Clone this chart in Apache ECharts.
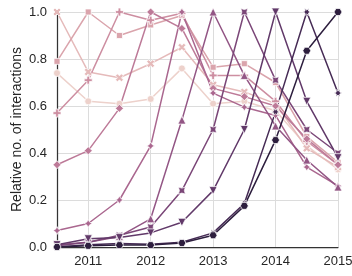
<!DOCTYPE html>
<html>
<head>
<meta charset="utf-8">
<script src="https://cdn.jsdelivr.net/npm/echarts@6/dist/echarts.min.js"></script>
<style>
html,body{margin:0;padding:0;background:#fff;}
#chart{width:352px;height:276px;}
</style>
</head>
<body>
<div id="chart"></div>
<script>
// ---- data ----
const years = [2010.5, 2011, 2011.5, 2012, 2012.5, 2013, 2013.5, 2014, 2014.5, 2015];
const xTickLabels = [2011, 2012, 2013, 2014, 2015];
const yTickLabels = [0.0, 0.2, 0.4, 0.6, 0.8, 1.0];
const group01 = [0.74, 0.62, 0.61, 0.63, 0.76, 0.61, 0.62, 0.58, 0.43, 0.33];
const group02 = [1.00, 0.745, 0.72, 0.78, 0.85, 0.69, 0.66, 0.61, 0.42, 0.34];
const group03 = [0.79, 1.00, 0.90, 0.945, 0.985, 0.765, 0.78, 0.70, 0.47, 0.36];
const group04 = [0.57, 0.71, 1.00, 0.965, 0.995, 0.73, 0.73, 0.62, 0.45, 0.35];
const group05 = [0.35, 0.41, 0.59, 1.00, 0.93, 0.675, 0.64, 0.60, 0.46, 0.35];
const group06 = [0.07, 0.10, 0.20, 0.43, 1.00, 0.655, 0.595, 0.56, 0.34, 0.26];
const group07 = [0.01, 0.02, 0.045, 0.12, 0.54, 1.00, 0.73, 0.515, 0.37, 0.255];
const group08 = [0.005, 0.02, 0.05, 0.085, 0.24, 0.50, 1.00, 0.71, 0.50, 0.40];
const group09 = [0.01, 0.035, 0.04, 0.06, 0.105, 0.24, 0.50, 1.00, 0.62, 0.38];
const group10 = [0.0, 0.01, 0.015, 0.012, 0.02, 0.06, 0.185, 0.575, 1.00, 0.655];
const group11 = [0.0, 0.005, 0.008, 0.008, 0.017, 0.05, 0.175, 0.455, 0.835, 1.00];
const groups = [group01, group02, group03, group04, group05, group06, group07, group08, group09, group10, group11];

// ---- styles ----
function cubehelix(x) {
  const start = 0, rot = 0.4, gamma = 1, hue = 0.8;
  const xg = Math.pow(x, gamma);
  const a = hue * xg * (1 - xg) / 2;
  const phi = 2 * Math.PI * (start / 3 + rot * x);
  const c = Math.cos(phi), s = Math.sin(phi);
  const r = xg + a * (-0.14861 * c + 1.78277 * s);
  const g = xg + a * (-0.29227 * c - 0.90649 * s);
  const b = xg + a * (1.97294 * c);
  const to = v => Math.round(Math.max(0, Math.min(1, v)) * 255);
  return 'rgb(' + to(r) + ',' + to(g) + ',' + to(b) + ')';
}
const symbols = [
  {symbol: 'circle', size: 7},
  {symbol: 'path://M-0.4,-0.2L-0.2,-0.4L0,-0.2L0.2,-0.4L0.4,-0.2L0.2,0L0.4,0.2L0.2,0.4L0,0.2L-0.2,0.4L-0.4,0.2L-0.2,0Z', size: 8},
  {symbol: 'rect', size: 6},
  {symbol: 'path://M-0.4,-0.133H-0.133V-0.4H0.133V-0.133H0.4V0.133H0.133V0.4H-0.133V0.133H-0.4Z', size: 8},
  {symbol: 'diamond', size: 8},
  {symbol: 'path://M0,-1L0.354,-0.354L1,0L0.354,0.354L0,1L-0.354,0.354L-1,0L-0.354,-0.354Z', size: 8},
  {symbol: 'triangle', size: 8},
  {symbol: 'path://M0,-0.5L0.707,-0.707L0.5,0L0.707,0.707L0,0.5L-0.707,0.707L-0.5,0L-0.707,-0.707Z', size: 7},
  {symbol: 'triangle', size: 8, rotate: 180},
  {symbol: 'path://M1,0L0.433,0.25L0.5,0.866L0,0.5L-0.5,0.866L-0.433,0.25L-1,0L-0.433,-0.25L-0.5,-0.866L0,-0.5L0.5,-0.866L0.433,-0.25Z', size: 8},
  {symbol: 'path://M1,0L0.5,0.866L-0.5,0.866L-1,0L-0.5,-0.866L0.5,-0.866Z', size: 8}
];

const series = groups.map((vals, i) => {
  const col = cubehelix(0.85 - 0.07 * i);
  const sym = symbols[i];
  return {
    type: 'line',
    data: years.map((x, k) => [x, vals[k]]),
    symbol: sym.symbol,
    symbolSize: sym.size,
    symbolRotate: sym.rotate || 0,
    symbolKeepAspect: true,
    showSymbol: true,
    showAllSymbol: true,
    clip: true,
    lineStyle: {color: col, width: 1.5},
    itemStyle: {color: col, borderColor: '#ffffff', borderWidth: 0.75},
    emphasis: {disabled: true},
    animation: false
  };
});

const textColor = '#262626';
const chart = echarts.init(document.getElementById('chart'), null, {renderer: 'canvas'});
chart.setOption({
  animation: false,
  backgroundColor: '#ffffff',
  grid: {left: 57, right: 14, top: 12, bottom: 29, containLabel: false, outerBoundsMode: 'none'},
  xAxis: {
    type: 'value',
    min: 2010.5, max: 2015, interval: 0.5,
    axisLine: {show: true, onZero: false, lineStyle: {color: '#333333', width: 1.25}},
    axisTick: {show: false},
    axisLabel: {
      color: textColor, fontFamily: 'Liberation Sans, Arial, sans-serif', fontSize: 13, margin: 8,
      hideOverlap: false,
      formatter: v => {
        const r = Math.round(v);
        return (Math.abs(v - r) < 1e-6 && xTickLabels.indexOf(r) >= 0) ? String(r) : '';
      }
    },
    splitLine: {show: true, lineStyle: {color: ['rgba(255,255,255,0)', '#dcdcdc'], width: 1}}
  },
  yAxis: {
    type: 'value',
    min: 0, max: 1, interval: 0.2,
    name: 'Relative no. of interactions',
    nameLocation: 'middle', nameGap: 33, nameRotate: 90, nameMoveOverlap: false,
    nameTextStyle: {color: textColor, fontFamily: 'Liberation Sans, Arial, sans-serif', fontSize: 14},
    axisLine: {show: true, lineStyle: {color: '#333333', width: 1.25}},
    axisTick: {show: false},
    axisLabel: {
      color: textColor, fontFamily: 'Liberation Sans, Arial, sans-serif', fontSize: 13, margin: 10,
      formatter: v => {
        const hit = yTickLabels.find(t => Math.abs(t - v) < 1e-6);
        return hit === undefined ? '' : hit.toFixed(1);
      }
    },
    splitLine: {show: true, lineStyle: {color: '#dcdcdc', width: 1}}
  },
  series: series
});
</script>
</body>
</html>
